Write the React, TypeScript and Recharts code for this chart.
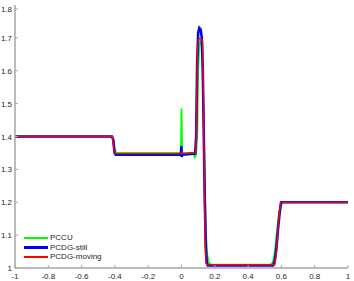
import React from "react";
import { LineChart, Line, XAxis, YAxis, Legend } from "recharts";

// PCCU
const xCCU = [-1, -0.42, -0.412, -0.405, -0.395, -0.385, -0.004, 0, 0.004, 0.07, 0.08, 0.088, 0.095, 0.1, 0.106, 0.112, 0.12, 0.127, 0.133, 0.14, 0.147, 0.155, 0.165, 0.18, 0.53, 0.545, 0.555, 0.565, 0.575, 0.585, 0.595, 0.61, 1];
const yCCU = [1.4, 1.4, 1.395, 1.37, 1.352, 1.35, 1.35, 1.485, 1.35, 1.35, 1.337, 1.345, 1.42, 1.6, 1.675, 1.69, 1.68, 1.6, 1.45, 1.25, 1.1, 1.04, 1.015, 1.01, 1.01, 1.014, 1.03, 1.07, 1.12, 1.165, 1.19, 1.2, 1.2];

// PCDG-still
const xStill = [-1, -0.418, -0.41, -0.402, -0.395, -0.004, -0.001, 0.001, 0.004, 0.082, 0.088, 0.094, 0.1, 0.107, 0.115, 0.122, 0.128, 0.134, 0.14, 0.146, 0.152, 0.158, 0.55, 0.56, 0.57, 0.58, 0.59, 0.598, 1];
const yStill = [1.4, 1.4, 1.39, 1.35, 1.345, 1.345, 1.37, 1.338, 1.345, 1.348, 1.4, 1.62, 1.715, 1.73, 1.725, 1.7, 1.6, 1.4, 1.2, 1.06, 1.015, 1.008, 1.008, 1.02, 1.06, 1.12, 1.17, 1.2, 1.2];

// PCDG-moving
const xMoving = [-1, -0.415, -0.41, -0.405, -0.4, -0.004, 0, 0.004, 0.085, 0.09, 0.095, 0.1, 0.106, 0.12, 0.126, 0.131, 0.136, 0.141, 0.146, 0.152, 0.56, 0.57, 0.58, 0.59, 0.597, 1];
const yMoving = [1.4, 1.4, 1.38, 1.355, 1.348, 1.348, 1.352, 1.348, 1.35, 1.45, 1.65, 1.695, 1.698, 1.697, 1.69, 1.55, 1.3, 1.1, 1.02, 1.01, 1.01, 1.05, 1.12, 1.18, 1.2, 1.2];

const xTicks = [-1, -0.8, -0.6, -0.4, -0.2, 0, 0.2, 0.4, 0.6, 0.8, 1];
const yTicks = [1, 1.1, 1.2, 1.3, 1.4, 1.5, 1.6, 1.7, 1.8];

const series = [
  { name: "PCCU", color: "#00ff00", width: 1.8, xs: xCCU, ys: yCCU },
  { name: "PCDG-still", color: "#0000ff", width: 2.6, xs: xStill, ys: yStill },
  { name: "PCDG-moving", color: "#ff0000", width: 1.4, xs: xMoving, ys: yMoving },
];

const AXIS = "#a6a6a6";
const TEXT = "#262626";
const FONT = "'Liberation Sans', Arial, sans-serif";

const zip = (xs: number[], ys: number[]) => xs.map((x, i) => ({ x, y: ys[i] }));

const BottomTick = ({ x, y, payload }: any) => (
  <g>
    <line x1={x} x2={x} y1={y} y2={y - 3} stroke={AXIS} />
    <text x={x} y={y + 11} textAnchor="middle" fontSize={8} fill={TEXT} fontFamily={FONT}>
      {String(payload.value)}
    </text>
  </g>
);

const TopTick = ({ x, y }: any) => <line x1={x} x2={x} y1={y} y2={y + 3} stroke={AXIS} />;

const LeftTick = ({ x, y, payload }: any) => (
  <g>
    <line x1={x} x2={x + 3} y1={y} y2={y} stroke={AXIS} />
    <text x={x - 3} y={y + 3} textAnchor="end" fontSize={8} fill={TEXT} fontFamily={FONT}>
      {String(payload.value)}
    </text>
  </g>
);

const RightTick = ({ x, y }: any) => <line x1={x} x2={x - 3} y1={y} y2={y} stroke={AXIS} />;

const LegendBox = () => (
  <div style={{ fontFamily: FONT, fontSize: 8, color: TEXT }}>
    {series.map((s) => (
      <div key={s.name} style={{ display: "flex", alignItems: "center", height: 9.6 }}>
        <span
          style={{
            display: "inline-block",
            width: 24,
            height: s.width,
            background: s.color,
            marginRight: 2,
          }}
        />
        <span>{s.name}</span>
      </div>
    ))}
  </div>
);

export default function App() {
  return (
    <div style={{ position: "absolute", left: 0, top: 0, width: 354, height: 281, background: "#fff" }}>
      <LineChart width={354} height={281} margin={{ top: 5, right: 6, left: 0, bottom: 0 }}>
        <XAxis
          dataKey="x"
          type="number"
          domain={[-1, 1]}
          ticks={xTicks}
          height={13}
          tickSize={0}
          tickMargin={0}
          tick={<BottomTick />}
          axisLine={{ stroke: AXIS, strokeWidth: 1.5 }}
          allowDataOverflow
        />
        <XAxis
          xAxisId="top"
          orientation="top"
          type="number"
          domain={[-1, 1]}
          ticks={xTicks}
          height={0}
          tickSize={0}
          tickMargin={0}
          tick={<TopTick />}
          axisLine={{ stroke: AXIS, strokeWidth: 1.5 }}
          allowDataOverflow
        />
        <YAxis
          type="number"
          domain={[1, 1.8]}
          ticks={yTicks}
          width={15}
          tickSize={0}
          tickMargin={0}
          tick={<LeftTick />}
          axisLine={{ stroke: AXIS, strokeWidth: 1.5 }}
          allowDataOverflow
        />
        <YAxis
          yAxisId="right"
          orientation="right"
          type="number"
          domain={[1, 1.8]}
          ticks={yTicks}
          width={0}
          tickSize={0}
          tickMargin={0}
          tick={<RightTick />}
          axisLine={{ stroke: AXIS, strokeWidth: 1.5 }}
          allowDataOverflow
        />
        {series.map((s) => (
          <Line
            key={s.name}
            name={s.name}
            data={zip(s.xs, s.ys)}
            dataKey="y"
            type="linear"
            stroke={s.color}
            strokeWidth={s.width}
            dot={false}
            isAnimationActive={false}
          />
        ))}
        <Legend
          layout="vertical"
          align="center"
          verticalAlign="middle"
          content={<LegendBox />}
          wrapperStyle={{ left: 24, top: 233, width: 90, height: 30 }}
        />
      </LineChart>
    </div>
  );
}
